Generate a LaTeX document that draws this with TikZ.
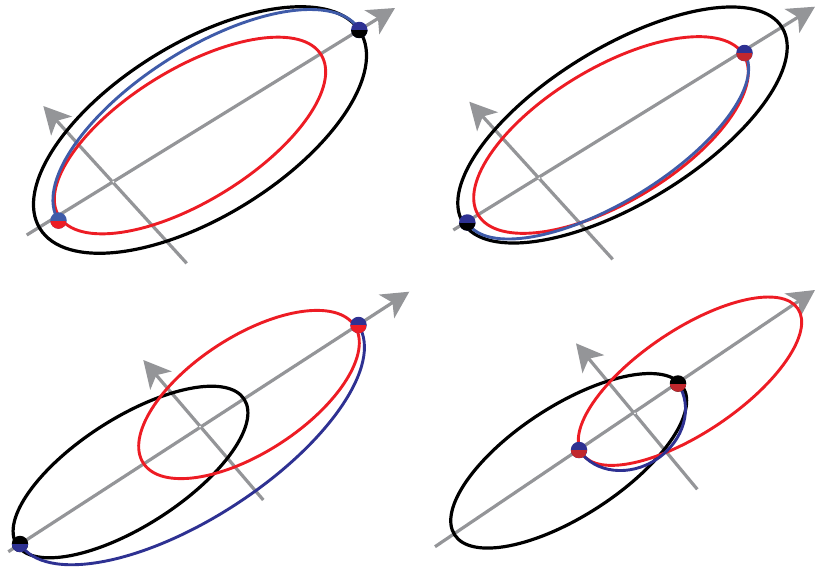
\documentclass[tikz,border=0pt]{standalone}
\usetikzlibrary{arrows.meta}
\definecolor{cred}{RGB}{237,28,36}
\definecolor{cdred}{RGB}{193,39,45}
\definecolor{cblue}{RGB}{63,91,169}
\definecolor{cdblue}{RGB}{46,49,146}
\definecolor{cgray}{RGB}{148,149,152}
\begin{document}
\begin{tikzpicture}[x=1pt,y=-1pt,
  axisline/.style={draw=cgray, line width=3.2pt, -{Stealth[length=27pt,width=28pt,inset=7pt]}},
  orbitblack/.style={draw=black, line width=3.2pt},
  orbitred/.style={draw=cred, line width=2.9pt},
  transfer/.style={line width=2.9pt},
  halfdot/.style 2 args={circle, minimum size=16.5pt, inner sep=0pt, fill=#1,
    path picture={\fill[#2] (path picture bounding box.west) rectangle (path picture bounding box.south east);}},
  centremark/.style={circle, minimum size=3.5pt, inner sep=0pt, fill=white, draw=cgray, line width=0.7pt}]
\useasboundingbox (0,0) rectangle (817,574);

% ---------- panel 1 ----------
\coordinate (a1s) at (26.7,235); \coordinate (a1e) at (395,8);
\coordinate (b1s) at (186.7,263.3); \coordinate (b1e) at (43.3,106);
\coordinate (d1l) at (58.5,220.5); \coordinate (d1r) at (359.3,30);
\draw[axisline] (a1s) -- (a1e);
\draw[axisline] (b1s) -- (b1e);
\node[centremark] (o1) at (113.3,181.7) {};
\draw[orbitblack, shift={(200,130)}, rotate=31.6] (0,0) ellipse [x radius=188, y radius=87];
\draw[orbitred, shift={(190,135.5)}, rotate=31.6] (0,0) ellipse [x radius=154, y radius=66];
\draw[transfer, draw=cblue, rotate=32.4] (d1l) arc[start angle=180, end angle=360, x radius=178.2, y radius=77];
\node[halfdot={cblue}{cred}] (p1l) at (d1l) {};
\node[halfdot={cdblue}{black}] (p1r) at (d1r) {};

% ---------- panel 2 ----------
\coordinate (a2s) at (453.3,230); \coordinate (a2e) at (815,6.7);
\coordinate (b2s) at (612.7,259.3); \coordinate (b2e) at (469.3,101.7);
\coordinate (d2l) at (467.3,222.5); \coordinate (d2r) at (744.5,53);
\draw[axisline] (a2s) -- (a2e);
\draw[axisline] (b2s) -- (b2e);
\node[centremark] (o2) at (539.3,178.3) {};
\draw[orbitblack, shift={(622.5,125)}, rotate=31.4] (0,0) ellipse [x radius=187, y radius=78];
\draw[orbitred, shift={(611,135)}, rotate=31] (0,0) ellipse [x radius=155, y radius=67];
\draw[transfer, draw=cblue, rotate=31.45] (d2l) arc[start angle=180, end angle=0, x radius=162.5, y radius=65];
\node[halfdot={cdblue}{black}] (p2l) at (d2l) {};
\node[halfdot={cdblue}{cdred}] (p2r) at (d2r) {};

% ---------- panel 3 ----------
\coordinate (a3s) at (8.3,551.7); \coordinate (a3e) at (409.3,291.7);
\coordinate (b3s) at (263.3,500); \coordinate (b3e) at (143.3,360);
\coordinate (d3l) at (20,544); \coordinate (d3r) at (358.5,325);
\draw[axisline] (a3s) -- (a3e);
\draw[axisline] (b3s) -- (b3e);
\node[centremark] (o3) at (200,426.7) {};
\draw[orbitblack, shift={(130.5,472)}, rotate=32.6] (0,0) ellipse [x radius=135, y radius=54];
\draw[orbitred, shift={(249,394.5)}, rotate=33] (0,0) ellipse [x radius=126, y radius=58];
\draw[transfer, draw=cdblue, rotate=32.9] (d3l) arc[start angle=180, end angle=0, x radius=201.5, y radius=84];
\node[halfdot={black}{cdblue}] (p3l) at (d3l) {};
\node[halfdot={cdblue}{cred}] (p3r) at (d3r) {};

% ---------- panel 4 ----------
\coordinate (a4s) at (435,546.7); \coordinate (a4e) at (815,290);
\coordinate (b4s) at (697.3,489.3); \coordinate (b4e) at (576,343.3);
\coordinate (d4a) at (579,450); \coordinate (d4b) at (678,383.5);
\draw[axisline] (a4s) -- (a4e);
\draw[axisline] (b4s) -- (b4e);
\node[centremark] (o4) at (635,413.3) {};
\draw[orbitblack, shift={(568.7,460.8)}, rotate=33] (0,0) ellipse [x radius=136, y radius=55];
\draw[orbitred, shift={(690,381.2)}, rotate=33.9] (0,0) ellipse [x radius=130, y radius=51.5];
\draw[transfer, draw=cdblue, rotate=33.9] (d4a) arc[start angle=180, end angle=0, x radius=59.6, y radius=51];
\node[halfdot={cdblue}{cdred}] (p4a) at (d4a) {};
\node[halfdot={black}{cdred}] (p4b) at (d4b) {};
\end{tikzpicture}
\end{document}
